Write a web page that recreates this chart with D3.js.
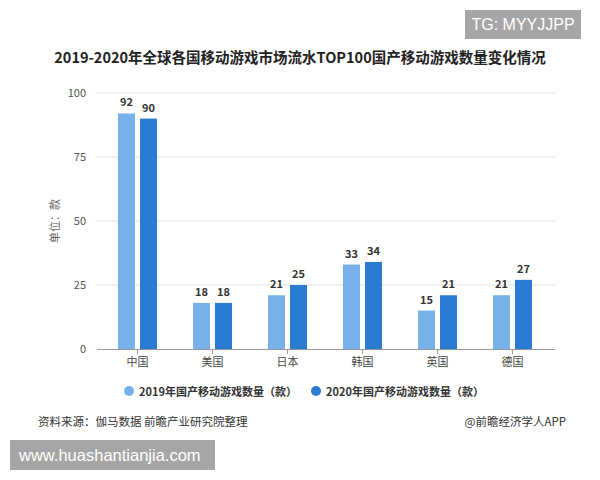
<!DOCTYPE html>
<html><head><meta charset="utf-8">
<script src="https://cdn.jsdelivr.net/npm/d3@7"></script>
<style>body{margin:0;background:#fff;font-family:"Noto Sans CJK SC","Noto Sans",sans-serif;}</style>
</head><body><svg id="c" width="600" height="480"></svg>
<script>
const categories = ["中国","美国","日本","韩国","英国","德国"];
const series2019 = [92,18,21,33,15,21];
const series2020 = [90,18,25,34,21,27];
const seriesNames = ["2019年国产移动游戏数量（款）","2020年国产移动游戏数量（款）"];
const yTicks = [0,25,50,75,100];
const colors = ["#78b1ea","#2a7bd2"];

const svg = d3.select("#c");
const font = '"Noto Sans CJK SC","Noto Sans",sans-serif';
svg.append("rect").attr("width",600).attr("height",480).attr("fill","#fff");

// TG badge
svg.append("rect").attr("x",465).attr("y",10).attr("width",116).attr("height",29).attr("fill","#a6a6a6");
svg.append("text").attr("x",523).attr("y",30).attr("text-anchor","middle").attr("fill","#fff")
  .attr("font-family","Arial, Liberation Sans, sans-serif").attr("font-size",16).text("TG: MYYJJPP");

// title
svg.append("text").attr("x",300).attr("y",63).attr("text-anchor","middle").attr("font-family",font)
  .attr("font-weight","bold").attr("font-size",14.5).attr("fill","#222")
  .text("2019-2020年全球各国移动游戏市场流水TOP100国产移动游戏数量变化情况");

const x0 = d3.scaleBand().domain(categories).range([100,550]).paddingInner(0).paddingOuter(0);
const y = d3.scaleLinear().domain([0,100]).range([349,93]);

// grid
svg.append("g").selectAll("line").data(yTicks.filter(d=>d>0)).join("line")
  .attr("x1",97).attr("x2",555).attr("y1",d=>y(d)).attr("y2",d=>y(d))
  .attr("stroke","#e3e3e3").attr("stroke-width",1);

// y tick labels
svg.append("g").selectAll("text").data(yTicks).join("text")
  .attr("x",86).attr("y",d=>y(d)+4).attr("text-anchor","end").attr("font-family",font)
  .attr("font-size",11).attr("fill","#555").text(d=>d);

// y label
svg.append("text").attr("transform","translate(59,221) rotate(-90)").attr("text-anchor","middle")
  .attr("font-family",font).attr("font-size",11).attr("fill","#666").text("单位：款");

// bars
const barW = 17, gap = 5;
const data = categories.map((c,i)=>({c, v:[series2019[i],series2020[i]]}));
data.forEach(d=>{
  const cx = x0(d.c)+x0.bandwidth()/2;
  d.v.forEach((v,j)=>{
    const bx = j===0 ? cx-gap/2-barW : cx+gap/2;
    svg.append("rect").attr("x",bx).attr("y",y(v)).attr("width",barW).attr("height",y(0)-y(v)).attr("fill",colors[j]);
    svg.append("text").attr("x",bx+barW/2).attr("y",y(v)-7).attr("text-anchor","middle")
      .attr("font-family",font).attr("font-weight","bold").attr("font-size",11).attr("fill","#333").text(v);
  });
});

// x axis
svg.append("line").attr("x1",97).attr("x2",555).attr("y1",349.5).attr("y2",349.5).attr("stroke","#999");
svg.append("g").selectAll("line").data(categories).join("line")
  .attr("x1",d=>x0(d)+x0.bandwidth()/2).attr("x2",d=>x0(d)+x0.bandwidth()/2)
  .attr("y1",349).attr("y2",354).attr("stroke","#999");
svg.append("g").selectAll("text").data(categories).join("text")
  .attr("x",d=>x0(d)+x0.bandwidth()/2).attr("y",366).attr("text-anchor","middle")
  .attr("font-family",font).attr("font-size",11).attr("fill","#444").text(d=>d);

// legend
const legX = [129,316];
seriesNames.forEach((n,i)=>{
  svg.append("circle").attr("cx",legX[i]).attr("cy",391).attr("r",5).attr("fill",colors[i]);
  svg.append("text").attr("x",legX[i]+10).attr("y",395.5).attr("font-family",font).attr("font-weight","bold")
    .attr("font-size",11).attr("fill","#333").text(n);
});

// source
svg.append("text").attr("x",38).attr("y",426).attr("font-family",font).attr("font-size",11.5).attr("fill","#333")
  .text("资料来源：伽马数据 前瞻产业研究院整理");
svg.append("text").attr("x",566).attr("y",426).attr("text-anchor","end").attr("font-family",font).attr("font-size",11.5).attr("fill","#333")
  .text("@前瞻经济学人APP");

// bottom badge
svg.append("rect").attr("x",10).attr("y",440).attr("width",205).attr("height",30).attr("fill","#a6a6a6");
svg.append("text").attr("x",19).attr("y",461).attr("fill","#fff")
  .attr("font-family","Arial, Liberation Sans, sans-serif").attr("font-size",16.5).text("www.huashantianjia.com");
</script></body></html>
